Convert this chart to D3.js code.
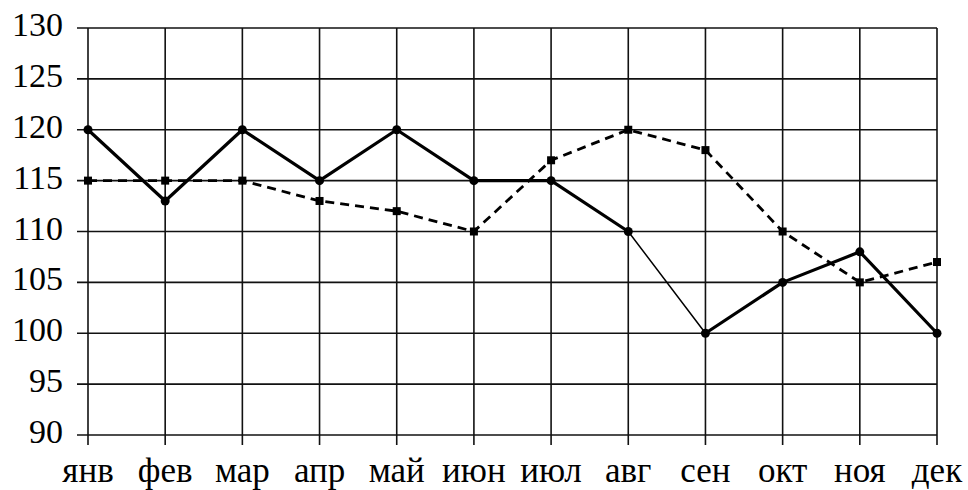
<!DOCTYPE html>
<html>
<head>
<meta charset="utf-8">
<script src="https://cdn.jsdelivr.net/npm/d3@7"></script>
<style>
  body { margin: 0; background: #fff; }
  svg text { font-family: "Liberation Serif", "Times New Roman", serif; fill: #000; }
</style>
</head>
<body>
<div id="chart"></div>
<script>
var width = 968,
    height = 490;

var months = ["янв", "фев", "мар", "апр", "май", "июн", "июл", "авг", "сен", "окт", "ноя", "дек"];
var solidVals = [120, 113, 120, 115, 120, 115, 115, 110, 100, 105, 108, 100];
var dashVals = [115, 115, 115, 113, 112, 110, 117, 120, 118, 110, 105, 107];
var yTicks = [90, 95, 100, 105, 110, 115, 120, 125, 130];

var plotLeft = 88, plotRight = 937, plotTop = 28, plotBottom = 435;

var svg = d3.select("#chart").append("svg")
  .attr("width", width)
  .attr("height", height);

var x = d3.scalePoint()
  .domain(months)
  .range([plotLeft, plotRight]);

var y = d3.scaleLinear()
  .domain([90, 130])
  .range([plotBottom, plotTop]);

// horizontal grid
svg.append("g")
  .selectAll("line")
  .data(yTicks)
  .enter().append("line")
  .attr("x1", plotLeft - 11)
  .attr("x2", plotRight)
  .attr("y1", function(d){ return y(d) })
  .attr("y2", function(d){ return y(d) })
  .attr("stroke", "#111")
  .attr("stroke-width", 1.6);

// vertical grid
svg.append("g")
  .selectAll("line")
  .data(months)
  .enter().append("line")
  .attr("x1", function(d){ return x(d) })
  .attr("x2", function(d){ return x(d) })
  .attr("y1", plotTop)
  .attr("y2", plotBottom + 10)
  .attr("stroke", "#111")
  .attr("stroke-width", 1.6);

// y labels
svg.append("g")
  .selectAll("text")
  .data(yTicks)
  .enter().append("text")
  .attr("x", 63)
  .attr("y", function(d){ return y(d) + 8 })
  .attr("text-anchor", "end")
  .style("font-size", "34px")
  .text(function(d){ return d });

// x labels
svg.append("g")
  .selectAll("text")
  .data(months)
  .enter().append("text")
  .attr("x", function(d){ return x(d) })
  .attr("y", 482)
  .attr("text-anchor", "middle")
  .style("font-size", "35px")
  .text(function(d){ return d });

var line = d3.line()
  .x(function(d, i){ return x(months[i]) })
  .y(function(d){ return y(d) });

// dashed series
svg.append("path")
  .datum(dashVals)
  .attr("d", line)
  .attr("fill", "none")
  .attr("stroke", "#000")
  .attr("stroke-width", 2.8)
  .attr("stroke-dasharray", "9,6");

svg.append("g")
  .selectAll("rect")
  .data(dashVals)
  .enter().append("rect")
  .attr("x", function(d, i){ return x(months[i]) - 4 })
  .attr("y", function(d){ return y(d) - 4 })
  .attr("width", 8)
  .attr("height", 8)
  .attr("fill", "#000");

// solid series, drawn per segment (авг-сен is thin)
var segs = d3.pairs(solidVals.map(function(v, i){ return [x(months[i]), y(v)] }));
svg.append("g")
  .selectAll("line")
  .data(segs)
  .enter().append("line")
  .attr("x1", function(d){ return d[0][0] })
  .attr("y1", function(d){ return d[0][1] })
  .attr("x2", function(d){ return d[1][0] })
  .attr("y2", function(d){ return d[1][1] })
  .attr("stroke", "#000")
  .attr("stroke-linecap", "round")
  .attr("stroke-width", function(d, i){ return i == 7 ? 1.5 : 3.2 });

svg.append("g")
  .selectAll("circle")
  .data(solidVals)
  .enter().append("circle")
  .attr("cx", function(d, i){ return x(months[i]) })
  .attr("cy", function(d){ return y(d) })
  .attr("r", 4.5)
  .attr("fill", "#000");
</script>
</body>
</html>
